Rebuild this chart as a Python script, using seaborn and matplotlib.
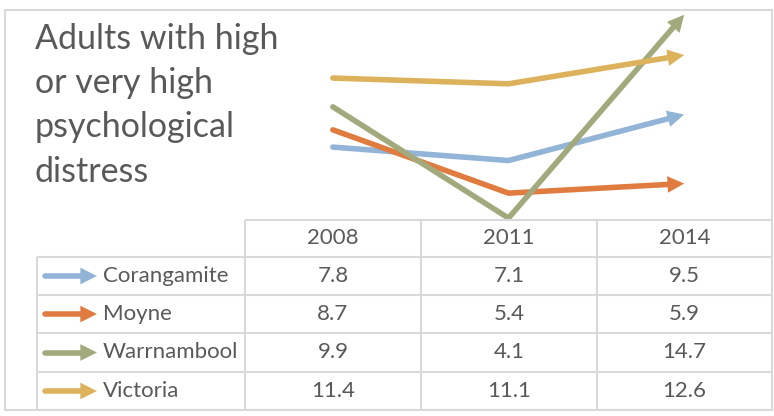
import matplotlib
matplotlib.use('Agg')
import matplotlib.pyplot as plt
import seaborn as sns
import pandas as pd
import numpy as np
from matplotlib.patches import Rectangle

# ---- data ----
years = ['2008', '2011', '2014']
areas = ['Corangamite', 'Moyne', 'Warrnambool', 'Victoria']
corangamite = [7.8, 7.1, 9.5]
moyne = [8.7, 5.4, 5.9]
warrnambool = [9.9, 4.1, 14.7]
victoria = [11.4, 11.1, 12.6]
colors = ['#92B4D7', '#E07C40', '#A2AA7D', '#DDB25C']
title = 'Adults with high\nor very high\npsychological\ndistress'

series = [corangamite, moyne, warrnambool, victoria]
rows = []
for a, vals in zip(areas, series):
    for i, (yr, v) in enumerate(zip(years, vals)):
        rows.append({'area': a, 'year': yr, 'pos': i, 'value': v})
df = pd.DataFrame(rows)

sns.set_style('white')
plt.rcParams['font.family'] = ['Lato', 'DejaVu Sans']

TXT = '#595959'
GRID = '#D9D9D9'
W, H = 774, 416
fig = plt.figure(figsize=(W / 100, H / 100), dpi=100)


def fx(px):
    return px / W


def fy(py):
    return 1 - py / H


ax = fig.add_axes([fx(245), fy(220), fx(772) - fx(245), fy(9) - fy(220)])
sns.lineplot(data=df, x='pos', y='value', hue='area', hue_order=areas,
             palette=colors, linewidth=4, legend=False, ax=ax,
             sort=False, estimator=None)
ax.set_xlim(-0.5, 2.5)
ax.set_ylim(4, 15)
ax.axis('off')

HEAD = '-|>,head_length=0.6,head_width=0.3'
# arrow heads at the last point; shorten line so it hides under the head
for line in ax.get_lines():
    xd = np.asarray(line.get_xdata(), float)
    yd = np.asarray(line.get_ydata(), float)
    if len(xd) < 2:
        continue
    c = line.get_color()
    line.set_solid_capstyle('round')
    p1 = ax.transData.transform((xd[-2], yd[-2]))
    p2 = ax.transData.transform((xd[-1], yd[-1]))
    d = p2 - p1
    d = d / np.hypot(*d)
    pnew = ax.transData.inverted().transform(p2 - d * 8)
    xd2 = xd.copy(); yd2 = yd.copy()
    xd2[-1], yd2[-1] = pnew
    line.set_data(xd2, yd2)
    ax.annotate('', xy=(xd[-1], yd[-1]), xytext=(xd[-2], yd[-2]),
                arrowprops=dict(arrowstyle=HEAD, color=c, lw=0,
                                shrinkA=0, shrinkB=0, mutation_scale=20),
                annotation_clip=False)

# ---- overlay in pixel coords: frame, table, title ----
tab = fig.add_axes([0, 0, 1, 1])
tab.set_xlim(0, W)
tab.set_ylim(H, 0)
tab.axis('off')

fig.add_artist(Rectangle((fx(5), fy(410)), fx(772) - fx(5), fy(10) - fy(410),
                         transform=fig.transFigure, fill=False,
                         edgecolor=GRID, lw=1.5))

col_edges = [245, 421, 597, 772]
row_edges = [257, 295, 333, 372, 410]
lk = dict(color=GRID, lw=1.5, solid_capstyle='butt')
tab.plot([245, 772], [220, 220], **lk)
for yv in row_edges:
    tab.plot([37, 772], [yv, yv], **lk)
tab.plot([37, 37], [257, 410], **lk)
for xv in col_edges:
    tab.plot([xv, xv], [220, 410], **lk)

FS = 16
for j, yr in enumerate(years):
    cx = (col_edges[j] + col_edges[j + 1]) / 2
    tab.text(cx, 238.5, yr, ha='center', va='center', fontsize=FS, color=TXT)

for i, (a, vals, c) in enumerate(zip(areas, series, colors)):
    cy = (row_edges[i] + row_edges[i + 1]) / 2
    tab.plot([45, 89], [cy, cy], color=c, lw=4, solid_capstyle='round')
    tab.annotate('', xy=(97, cy), xytext=(45, cy),
                 arrowprops=dict(arrowstyle=HEAD, color=c, lw=0,
                                 shrinkA=0, shrinkB=0, mutation_scale=20))
    tab.text(103, cy, a, ha='left', va='center', fontsize=FS, color=TXT)
    for j, v in enumerate(vals):
        cx = (col_edges[j] + col_edges[j + 1]) / 2
        tab.text(cx, cy, f'{v:.1f}', ha='center', va='center', fontsize=FS,
                 color=TXT)

tab.text(35, 23, title, ha='left', va='top', fontsize=24.5, color=TXT,
         linespacing=1.47)

fig.savefig('out.png', dpi=100)
